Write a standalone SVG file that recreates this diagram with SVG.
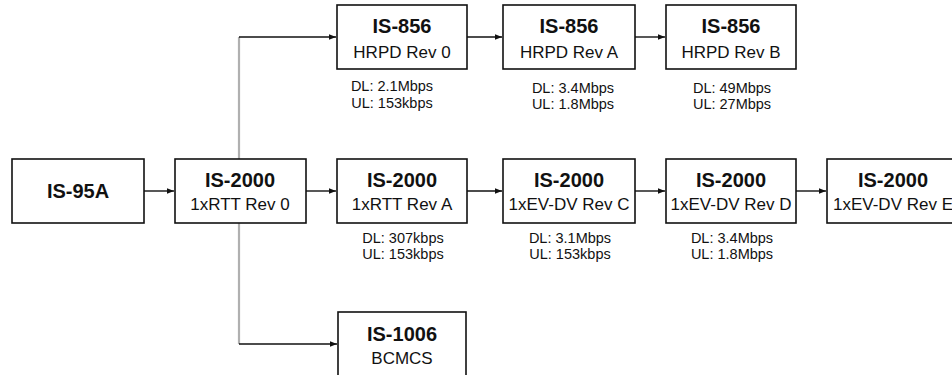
<svg xmlns="http://www.w3.org/2000/svg" width="952" height="375" viewBox="0 0 952 375">
<defs>
<marker id="ah" viewBox="0 0 10 10" refX="10" refY="5" markerWidth="7" markerHeight="7" markerUnits="userSpaceOnUse" orient="auto"><path d="M0,1 L10,5 L0,9 z" fill="#111"/></marker>
<style>
.box{fill:#fff;stroke:#111;stroke-width:1.6}
.t{font-family:"Liberation Sans",Arial,sans-serif;font-weight:bold;font-size:20px;fill:#111;text-anchor:middle}
.s{font-family:"Liberation Sans",Arial,sans-serif;font-size:17px;fill:#111;text-anchor:middle}
.r{font-family:"Liberation Sans",Arial,sans-serif;font-size:14.5px;fill:#111;text-anchor:middle}
.c{fill:none;stroke:#111;stroke-width:1.4}
.g{fill:none;stroke:#b0b0b0;stroke-width:2.2}
</style>
</defs>
<rect width="952" height="375" fill="#fff"/>
<g id="connectors">
<path class="g" d="M239,37 V344"/>
<path class="c" d="M239,37 H336" marker-end="url(#ah)"/>
<path class="c" d="M239,344 H337" marker-end="url(#ah)"/>
<path class="c" d="M467,37 H502" marker-end="url(#ah)"/>
<path class="c" d="M635,37 H665" marker-end="url(#ah)"/>
<path class="c" d="M144,191 H174" marker-end="url(#ah)"/>
<path class="c" d="M306,191 H336" marker-end="url(#ah)"/>
<path class="c" d="M467,191 H502" marker-end="url(#ah)"/>
<path class="c" d="M635,191 H665" marker-end="url(#ah)"/>
<path class="c" d="M796,191 H826" marker-end="url(#ah)"/>
</g>
<g id="is856-rev0">
<rect class="box" x="337" y="5" width="130" height="64"/>
<text class="t" x="402" y="33">IS-856</text>
<text class="s" x="402" y="58">HRPD Rev 0</text>
<text class="r" x="392" y="91">DL: 2.1Mbps</text>
<text class="r" x="392" y="108">UL: 153kbps</text>
</g>
<g id="is856-revA">
<rect class="box" x="503" y="5" width="132" height="64"/>
<text class="t" x="569" y="33">IS-856</text>
<text class="s" x="569" y="58">HRPD Rev A</text>
<text class="r" x="573" y="93">DL: 3.4Mbps</text>
<text class="r" x="573" y="109">UL: 1.8Mbps</text>
</g>
<g id="is856-revB">
<rect class="box" x="666" y="5" width="130" height="64"/>
<text class="t" x="731" y="33">IS-856</text>
<text class="s" x="731" y="58">HRPD Rev B</text>
<text class="r" x="732" y="93">DL: 49Mbps</text>
<text class="r" x="732" y="109">UL: 27Mbps</text>
</g>
<g id="is95a">
<rect class="box" x="12" y="159" width="132" height="64"/>
<text class="t" x="78" y="198">IS-95A</text>
</g>
<g id="is2000-rev0">
<rect class="box" x="175" y="159" width="131" height="64"/>
<text class="t" x="240" y="187">IS-2000</text>
<text class="s" x="240" y="210">1xRTT Rev 0</text>
</g>
<g id="is2000-revA">
<rect class="box" x="337" y="159" width="130" height="64"/>
<text class="t" x="402" y="187">IS-2000</text>
<text class="s" x="402" y="210">1xRTT Rev A</text>
<text class="r" x="403" y="243">DL: 307kbps</text>
<text class="r" x="403" y="259">UL: 153kbps</text>
</g>
<g id="is2000-revC">
<rect class="box" x="503" y="159" width="132" height="64"/>
<text class="t" x="569" y="187">IS-2000</text>
<text class="s" x="569" y="210">1xEV-DV Rev C</text>
<text class="r" x="570" y="243">DL: 3.1Mbps</text>
<text class="r" x="570" y="259">UL: 153kbps</text>
</g>
<g id="is2000-revD">
<rect class="box" x="666" y="159" width="130" height="64"/>
<text class="t" x="731" y="187">IS-2000</text>
<text class="s" x="731" y="210">1xEV-DV Rev D</text>
<text class="r" x="732" y="243">DL: 3.4Mbps</text>
<text class="r" x="732" y="259">UL: 1.8Mbps</text>
</g>
<g id="is2000-revE">
<rect class="box" x="827" y="159" width="132" height="64"/>
<text class="t" x="893" y="187">IS-2000</text>
<text class="s" x="893" y="210">1xEV-DV Rev E</text>
</g>
<g id="is1006">
<rect class="box" x="338" y="312" width="128" height="66"/>
<text class="t" x="402" y="341">IS-1006</text>
<text class="s" x="402" y="364">BCMCS</text>
</g>
</svg>
